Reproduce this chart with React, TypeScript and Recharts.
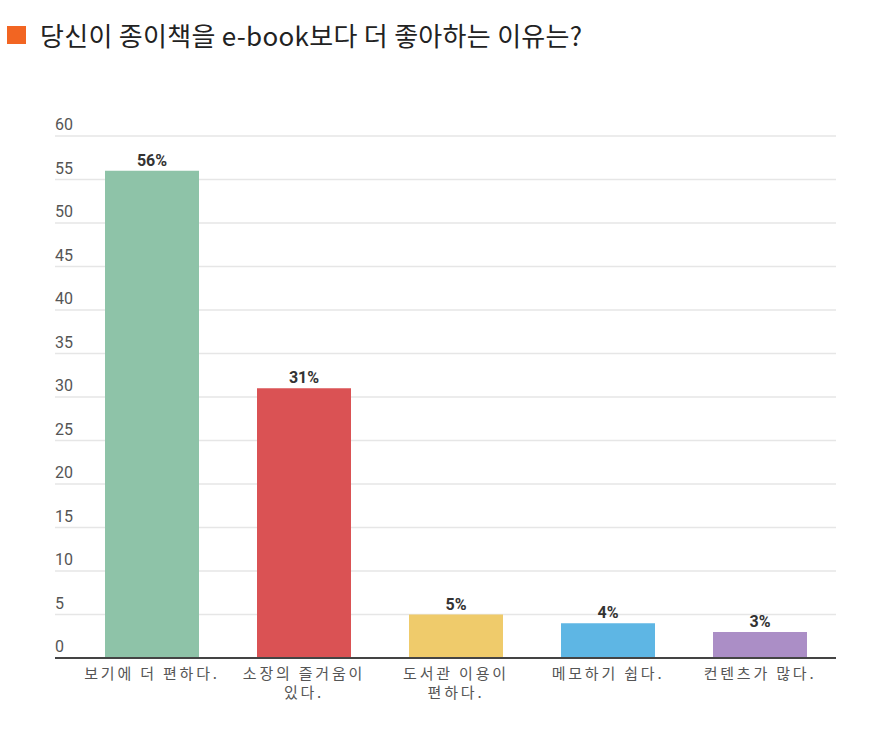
import React from "react";
import { BarChart, Bar, XAxis, YAxis, CartesianGrid, LabelList, Cell, Text } from "recharts";

const categories = ["보기에 더 편하다.", "소장의 즐거움이 있다.", "도서관 이용이 편하다.", "메모하기 쉽다.", "컨텐츠가 많다."];
const values = [56, 31, 5, 4, 3];
const colors = ["#8EC3A8", "#DA5254", "#EFCB6B", "#5EB6E4", "#AB8EC6"];
const yTicks = [0, 5, 10, 15, 20, 25, 30, 35, 40, 45, 50, 55, 60];
const title = "당신이 종이책을 e-book보다 더 좋아하는 이유는?";

const data = categories.map((name, i) => ({ name, value: values[i] }));

const KFONT = "'Noto Sans CJK KR', 'Noto Sans', sans-serif";
const NFONT = "Roboto, 'Noto Sans', sans-serif";

const YTick = (props: any) => {
  const { x, y, payload } = props;
  return (
    <text x={x} y={y - 6} textAnchor="start" fill="#555" fontSize={16} fontFamily={NFONT}>
      {payload.value}
    </text>
  );
};

const XTick = (props: any) => {
  const { x, y, payload } = props;
  return (
    <Text
      x={x}
      y={y}
      width={168}
      textAnchor="middle"
      verticalAnchor="start"
      fill="#555"
      fontSize={15}
      fontFamily={KFONT}
      lineHeight={19}
      style={{ letterSpacing: "2.8px" }}
    >
      {payload.value}
    </Text>
  );
};

export default function App() {
  return (
    <div style={{ position: "absolute", left: 0, top: 0, width: 880, height: 734, background: "#fff" }}>
      <div
        style={{
          position: "absolute",
          left: 7,
          top: 16,
          fontFamily: KFONT,
          fontSize: 26,
          letterSpacing: "0.3px",
          color: "#222",
          display: "flex",
          alignItems: "center",
          whiteSpace: "nowrap",
        }}
      >
        <span style={{ display: "inline-block", width: 19, height: 18, background: "#F26522", marginRight: 14 }} />
        <span>{title}</span>
      </div>
      <BarChart
        width={880}
        height={734}
        data={data}
        margin={{ top: 136, right: 44, bottom: 16, left: 8 }}
      >
        <CartesianGrid vertical={false} stroke="#E6E6E6" strokeWidth={1.5} />
        <XAxis
          dataKey="name"
          interval={0}
          padding={{ left: 21, right: 0 }}
          tickLine={false}
          axisLine={{ stroke: "#444", strokeWidth: 2 }}
          tickMargin={4}
          height={60}
          tick={<XTick />}
        />
        <YAxis
          domain={[0, 60]}
          ticks={yTicks}
          interval={0}
          width={47}
          tickSize={0}
          tickMargin={0}
          axisLine={false}
          tickLine={false}
          tick={<YTick />}
        />
        <Bar dataKey="value" barSize={94} isAnimationActive={false}>
          {data.map((d, i) => (
            <Cell key={d.name} fill={colors[i]} />
          ))}
          <LabelList
            dataKey="value"
            position="top"
            offset={5}
            formatter={(v: any) => `${v}%`}
            style={{ fill: "#333", fontSize: 16, fontWeight: 700, fontFamily: NFONT }}
          />
        </Bar>
      </BarChart>
    </div>
  );
}
